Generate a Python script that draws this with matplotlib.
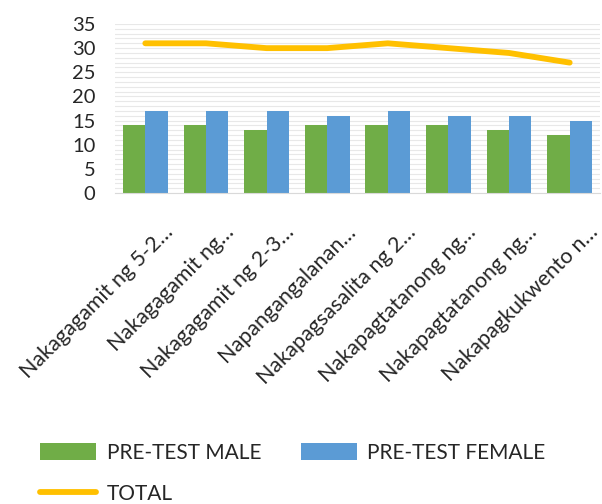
import matplotlib.pyplot as plt
from matplotlib.ticker import MultipleLocator
import matplotlib.transforms as mtransforms

categories = ['Nakagagamit ng 5-2…', 'Nakagagamit ng…', 'Nakagagamit ng 2-3…',
              'Napangangalanan…', 'Nakapagsasalita ng 2…', 'Nakapagtatanong ng…',
              'Nakapagtatanong ng…', 'Nakapagkukwento n…']
pre_male = [14, 14, 13, 14, 14, 14, 13, 12]
pre_female = [17, 17, 17, 16, 17, 16, 16, 15]
total = [31, 31, 30, 30, 31, 30, 29, 27]

plt.rcParams['font.family'] = ['Lato', 'DejaVu Sans']

fig = plt.figure(figsize=(6.02, 5.04), dpi=100)
ax = fig.add_axes([115 / 602, 1 - 193 / 504, 485 / 602, (193 - 24) / 504])

x = list(range(len(categories)))
w = 0.37
b1 = ax.bar([i - w / 2 for i in x], pre_male, w, color='#70AD47', label='PRE-TEST MALE', zorder=2)
b2 = ax.bar([i + w / 2 for i in x], pre_female, w, color='#5B9BD5', label='PRE-TEST FEMALE', zorder=2)
l1, = ax.plot(x, total, color='#FFC000', lw=4.2, solid_capstyle='round', label='TOTAL', zorder=3)

ax.set_xlim(-0.5, len(categories) - 0.5)
ax.set_ylim(0, 35)
ax.yaxis.set_major_locator(MultipleLocator(5))
ax.yaxis.set_minor_locator(MultipleLocator(1))
ax.grid(axis='y', which='both', color='#e8e8e8', lw=0.8, zorder=0)
ax.set_axisbelow(True)
for s in ['top', 'right', 'left']:
    ax.spines[s].set_visible(False)
ax.spines['bottom'].set_color('#d9d9d9')
ax.tick_params(axis='y', which='both', length=0, pad=14, labelsize=14.5, labelcolor='#262626')
ax.tick_params(axis='x', length=0, pad=0, labelsize=15.5, labelcolor='#262626')

ax.set_xticks(x)
ax.set_xticklabels(categories, rotation=45, ha='right', va='baseline', rotation_mode='anchor')
off = mtransforms.ScaledTranslation(0.29, -0.40, fig.dpi_scale_trans)
for lab in ax.get_xticklabels():
    lab.set_transform(lab.get_transform() + off)

fig.legend([b1, l1, b2], ['PRE-TEST MALE', 'TOTAL', 'PRE-TEST FEMALE'],
           loc='upper left', bbox_to_anchor=(40 / 602, 1 - 443 / 504), ncol=2,
           frameon=False, fontsize=15, handlelength=2.7, handleheight=0.9,
           handletextpad=0.5, columnspacing=1.9, labelspacing=1.0, borderpad=0,
           borderaxespad=0, labelcolor='#262626')

fig.savefig('out.png', dpi=100)
